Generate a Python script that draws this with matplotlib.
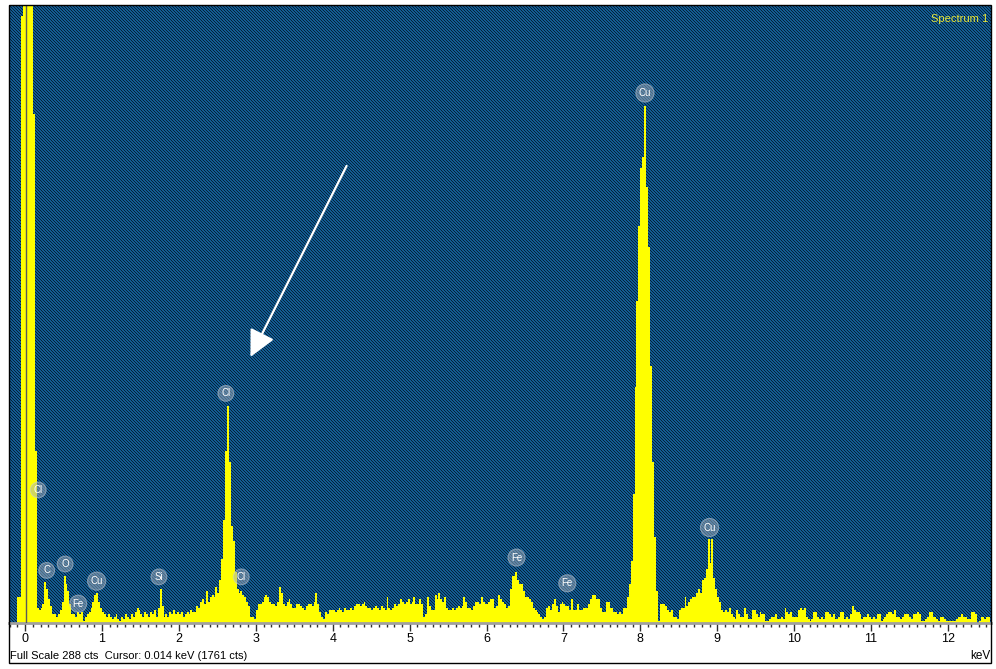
import matplotlib
matplotlib.use("Agg")
import matplotlib.pyplot as plt
from matplotlib.patches import Rectangle
import numpy as np

# EDS spectrum, 25 eV channels starting at -0.2 keV
CHANNEL_KEV = 0.025
START_KEV = -0.2
FULL_SCALE = 288

# counts per channel (one list per keV)
cts_neg = [0, 0, 0, 0, 12, 12, 283, 1761]
cts_0 = [1761, 1761, 1761, 1761, 237, 80, 7, 6, 7, 9,
         19, 16, 11, 8, 4, 4, 3, 4, 6, 10,
         22, 18, 15, 9, 4, 4, 3, 5, 4, 5,
         1, 3, 4, 5, 7, 10, 13, 14, 10, 7]
cts_1 = [5, 4, 3, 4, 3, 2, 3, 4, 2, 1,
         3, 2, 4, 3, 2, 4, 3, 5, 7, 6,
         4, 3, 5, 4, 3, 5, 4, 6, 3, 7,
         16, 8, 3, 4, 3, 5, 4, 6, 4, 5]
cts_2 = [4, 5, 3, 4, 5, 4, 6, 5, 5, 8,
         7, 10, 11, 9, 15, 10, 12, 13, 12, 17,
         14, 20, 30, 48, 80, 101, 75, 45, 38, 24,
         16, 14, 15, 13, 12, 10, 8, 3, 3, 2]
cts_3 = [6, 9, 9, 10, 12, 13, 12, 10, 9, 9,
         8, 10, 17, 14, 9, 8, 10, 11, 9, 7,
         7, 9, 9, 8, 7, 6, 8, 9, 9, 8,
         10, 14, 9, 5, 3, 2, 5, 4, 6, 6]
cts_4 = [6, 5, 6, 7, 6, 5, 7, 6, 6, 7,
         6, 8, 9, 9, 8, 9, 10, 8, 7, 7,
         6, 7, 8, 7, 6, 8, 7, 6, 12, 7,
         6, 7, 9, 8, 9, 11, 10, 9, 10, 11]
cts_5 = [9, 10, 12, 9, 9, 11, 9, 3, 4, 12,
         8, 6, 6, 13, 11, 14, 11, 10, 12, 7,
         6, 6, 7, 6, 7, 8, 7, 8, 12, 10,
         7, 7, 6, 8, 10, 10, 9, 12, 10, 9]
cts_6 = [9, 10, 11, 11, 7, 8, 13, 11, 10, 9,
         7, 8, 16, 22, 22, 24, 20, 18, 18, 15,
         12, 12, 11, 10, 7, 6, 5, 4, 3, 2,
         3, 7, 8, 6, 9, 11, 8, 5, 9, 10]
cts_7 = [9, 8, 8, 6, 11, 6, 6, 9, 6, 6,
         7, 7, 7, 9, 11, 13, 13, 11, 11, 7,
         5, 5, 10, 10, 7, 7, 5, 5, 4, 5,
         4, 7, 7, 12, 18, 29, 60, 110, 150, 185]
cts_8 = [212, 217, 241, 203, 175, 120, 75, 40, 15, 1,
         9, 9, 9, 8, 6, 5, 6, 3, 3, 2,
         6, 7, 7, 12, 8, 10, 11, 12, 12, 14,
         16, 14, 20, 21, 25, 39, 28, 39, 21, 16]
cts_9 = [12, 10, 6, 5, 6, 5, 7, 4, 3, 2,
         6, 4, 3, 3, 7, 4, 2, 2, 6, 6,
         4, 3, 5, 4, 4, 1, 1, 2, 3, 3,
         4, 2, 2, 3, 2, 7, 5, 4, 5, 3]
cts_10 = [3, 3, 6, 7, 6, 7, 3, 2, 1, 2,
          5, 5, 3, 2, 3, 2, 5, 5, 4, 3,
          4, 2, 2, 3, 5, 5, 2, 3, 2, 4,
          8, 6, 5, 5, 4, 2, 3, 3, 4, 3]
cts_11 = [2, 3, 2, 4, 4, 1, 2, 3, 4, 5,
          5, 4, 6, 3, 3, 2, 3, 4, 4, 4,
          3, 2, 4, 4, 5, 4, 1, 1, 2, 3,
          5, 5, 3, 3, 2, 1, 3, 3, 2, 1]
cts_12 = [1, 1, 1, 1, 2, 3, 3, 4, 3, 3,
          2, 2, 5, 5, 4, 0, 1, 3, 3, 2,
          3, 3]

# peak labels: element, energy (keV), label height (cts)
label_names = ['Cl', 'C', 'O', 'Fe', 'Cu', 'Si', 'Cl', 'Cl', 'Fe', 'Fe', 'Cu', 'Cu']
label_kev = [0.17, 0.28, 0.52, 0.69, 0.93, 1.74, 2.61, 2.81, 6.39, 7.05, 8.06, 8.9]
label_cts = [62, 24.5, 27.5, 9.0, 19.5, 21.5, 107, 21.5, 30.5, 18.5, 247, 44.5]

# arrow pointing at the Cl peak region (keV, cts)
arrow_tail = (4.18, 213)
arrow_head = (2.93, 124)

cursor_kev = 0.014
cursor_cts = 1761

counts = np.array(cts_neg + cts_0 + cts_1 + cts_2 + cts_3 + cts_4 + cts_5 + cts_6
                  + cts_7 + cts_8 + cts_9 + cts_10 + cts_11 + cts_12, dtype=float)
edges = START_KEV + CHANNEL_KEV * np.arange(len(counts) + 1)

plt.rcParams['font.family'] = ['Liberation Sans', 'DejaVu Sans']

W, H = 996, 669
fig = plt.figure(figsize=(W / 100, H / 100), dpi=100)
fig.patch.set_facecolor('white')

# plot window in pixels: x 9..991, y 5..623
AX_W, AX_H = 982, 618
ax = fig.add_axes([9 / W, (H - 623) / H, AX_W / W, AX_H / H])
ax.set_xlim(-0.21, 12.56)
ax.set_ylim(0, FULL_SCALE)

# dithered blue background, one texel per screen pixel
rows, cols = np.mgrid[0:AX_H, 0:AX_W]
dark = ((rows + 2 * cols) % 3 == 0)
tex = np.empty((AX_H, AX_W, 3))
tex[:] = np.array([18, 92, 146]) / 255
tex[dark] = np.array([5, 32, 58]) / 255
ax.imshow(tex, extent=(-0.21, 12.56, 0, FULL_SCALE), aspect='auto',
          interpolation='nearest', zorder=0)

ax.stairs(counts, edges, fill=True, color='#ffff00', baseline=0, zorder=2)
ax.axvline(cursor_kev, color='#5a5a5a', lw=1, zorder=3)

# element markers
for name, xk, yc in zip(label_names, label_kev, label_cts):
    ax.text(xk, yc, name, ha='center', va='center', fontsize=7, color='white',
            zorder=5,
            bbox=dict(boxstyle='circle,pad=0.3', fc='#a4aebc', ec='#c8d0da',
                      lw=0.8, alpha=0.5))

ax.annotate('', xy=arrow_head, xytext=arrow_tail, zorder=6,
            arrowprops=dict(arrowstyle='-|>,head_length=0.9,head_width=0.45',
                            color='white', lw=1.6, mutation_scale=18,
                            shrinkA=0, shrinkB=0))

ax.text(0.997, 0.985, 'Spectrum 1', transform=ax.transAxes, ha='right', va='top',
        fontsize=8, color='#e8e83a', zorder=6)

# axis: only the energy scale below the window
for side in ['top', 'left', 'right']:
    ax.spines[side].set_visible(False)
ax.spines['bottom'].set_color('#a0a0a0')
ax.spines['bottom'].set_linewidth(2)
ax.set_yticks([])
ax.set_xticks(np.arange(0, 13))
ax.set_xticks(np.arange(-0.2, 12.56, 0.1), minor=True)
ax.tick_params(axis='x', which='major', direction='out', length=6, width=1,
               color='#303030', labelsize=9, pad=1.5)
ax.tick_params(axis='x', which='minor', direction='out', length=3, width=1,
               color='#303030')

fig.text(10 / W, 1 - 656 / H, f'Full Scale {FULL_SCALE} cts  Cursor: {cursor_kev:.3f} keV ({cursor_cts} cts)',
         ha='left', va='center', fontsize=8)
fig.text(990 / W, 1 - 656 / H, 'keV', ha='right', va='center', fontsize=8.5)

# outer frame
fig.patches.append(Rectangle((9 / W, 6 / H), 982 / W, 658 / H, transform=fig.transFigure,
                             fill=False, ec='black', lw=1))

fig.savefig('out.png', dpi=100)
